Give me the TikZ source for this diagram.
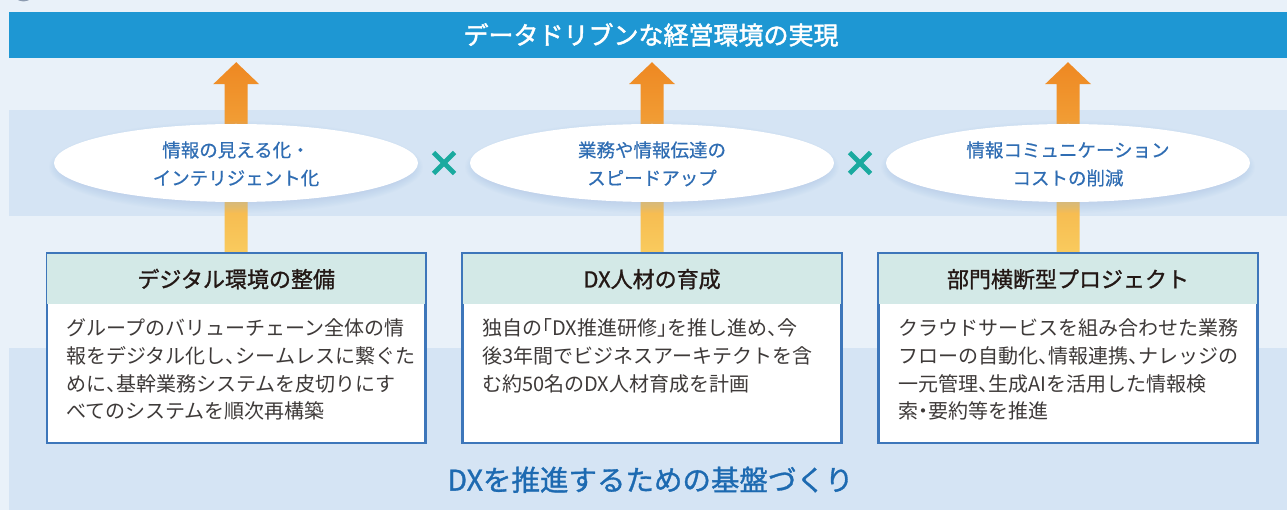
\documentclass[tikz,border=0pt]{standalone}
\usepackage{fontspec}
\setmainfont{Noto Sans CJK JP}
\newfontfamily\medfont[FakeBold=1.1]{Noto Sans CJK JP}
\newfontfamily\heavyfont[FakeBold=1.8]{Noto Sans CJK JP}
\newfontfamily\semifont[FakeBold=0.5]{Noto Sans CJK JP}
\usetikzlibrary{shapes.geometric,calc}
\XeTeXlinebreaklocale "ja"
\XeTeXlinebreakskip=0pt plus 3pt minus 1pt
\newcommand{\hwl}[1]{\makebox[0.5em][l]{#1}}
\newcommand{\hwr}[1]{\makebox[0.5em][r]{#1}}
\newcommand{\hwc}[1]{\makebox[0.5em][c]{#1}}
\newcommand{\fl}[1]{\hbox to 339pt{#1}}
\newcommand{\nl}[1]{\hbox{#1}}
\newcommand{\cl}[1]{\hbox to 0pt{\hss #1\hss}}
\definecolor{bgc}{HTML}{E9F1F9}
\definecolor{bandc}{HTML}{D5E4F4}
\definecolor{titlec}{HTML}{1E97D3}
\definecolor{arrtop}{HTML}{EE8822}
\definecolor{arrbot}{HTML}{F9CB5E}
\definecolor{elltxt}{HTML}{2F6DB3}
\definecolor{crossc}{HTML}{1AAA9F}
\definecolor{borderc}{HTML}{3D76BA}
\definecolor{hdrc}{HTML}{D3E9E7}
\definecolor{hdrtxt}{HTML}{231815}
\definecolor{bodytxt}{HTML}{3E3A39}
\definecolor{bottxt}{HTML}{1D6AB1}
\definecolor{shadc}{HTML}{9DBBE3}
\definecolor{dotc}{HTML}{8C9BB0}
\definecolor{darkenc}{HTML}{7A5A30}
\begin{document}
\begin{tikzpicture}[x=1pt,y=-1pt,
  titlebar/.style={rectangle,fill=titlec,minimum width=1278pt,minimum height=46pt,inner sep=0pt},
  titletxt/.style={text=white,font=\fontsize{25}{30}\selectfont\heavyfont,inner sep=0pt,anchor=base},
  ell/.style={ellipse,fill=white,minimum width=364pt,minimum height=78pt,inner sep=0pt},
  elltext/.style={text=elltxt,font=\fontsize{18.5}{28}\selectfont\semifont,inner sep=0pt,anchor=base},
  crossline/.style={draw=crossc,line width=4.8pt},
  arrowshade/.style={top color=arrtop,bottom color=arrbot},
  boxframe/.style={rectangle,draw=borderc,line width=1.6pt,fill=white,minimum width=378pt,minimum height=188.5pt,inner sep=0pt},
  hdrtext/.style={text=hdrtxt,font=\fontsize{22}{26}\selectfont\medfont,inner sep=0pt,anchor=base},
  bodytext/.style={text=bodytxt,font=\fontsize{20}{27.7}\selectfont,inner sep=0pt,anchor=base west},
  bottomtext/.style={text=bottxt,font=\fontsize{28.5}{32}\selectfont\medfont,inner sep=0pt,anchor=base}
]
\useasboundingbox (0,0) rectangle (1287,510);
\fill[bgc] (0,0) rectangle (1287,510);
\begin{scope}
  \clip (0,0) rectangle (1287,510);
  \fill[dotc] (23.5,-10) circle (11.5);
\end{scope}
% bands
\fill[bandc] (9,110) rectangle (1287,216);
\fill[bandc] (9,348) rectangle (1287,510);
% title bar and boxes (nodes)
\node[titlebar] (goal) at (648,35) {};
\node[titletxt] (goalt) at (651,44.5) {データドリブンな経営環境の実現};
\node[boxframe] (b1) at (236.2,348.3) {};
\node[boxframe] (b2) at (652,348.3) {};
\node[boxframe] (b3) at (1068,348.3) {};
% arrows
\foreach \b in {b1,b2,b3}{
  \shade[arrowshade]
    ($(\b.north)+(-11.5,0)$) --
    ($(goal.south -| \b.north)+(-11.5,26)$) --
    ($(goal.south -| \b.north)+(-23,26)$) --
    ($(goal.south -| \b.north)+(0,4)$) --
    ($(goal.south -| \b.north)+(23,26)$) --
    ($(goal.south -| \b.north)+(11.5,26)$) --
    ($(\b.north)+(11.5,0)$) -- cycle;
  \fill[darkenc,fill opacity=0.14] ($(\b.north)+(-11.5,0)$ |- 0,110) rectangle ($(\b.north)+(11.5,0)$ |- 0,216);
}
% ellipse shadows
\foreach \cx in {236,652,1068}{
  \foreach \i in {1,...,10}{
    \fill[shadc,fill opacity=0.045] (\cx,167) ellipse ({174+1.3*\i} and {33+1.3*\i});
  }
}
\node[ell] (e1) at (236,163) {};
\node[ell] (e2) at (652,163) {};
\node[ell] (e3) at (1068,163) {};
\node[elltext] (e1t) at (e1.center |- 0,157) {\vtop{\baselineskip=28pt\cl{情報の見える化・}\cl{インテリジェント化}}};
\node[elltext] (e2t) at (e2.center |- 0,157) {\vtop{\baselineskip=28pt\cl{業務や情報伝達の}\cl{スピードアップ}}};
\node[elltext] (e3t) at (e3.center |- 0,157) {\vtop{\baselineskip=28pt\cl{情報コミュニケーション}\cl{コストの削減}}};
% crosses
\coordinate (x1) at ($(e1.east)!0.5!(e2.west)$);
\coordinate (x2) at ($(e2.east)!0.5!(e3.west)$);
\foreach \x in {x1,x2}{
  \draw[crossline] ($(\x)+(-10.5,-10.5)$) -- ($(\x)+(10.5,10.5)$);
  \draw[crossline] ($(\x)+(-10.5,10.5)$) -- ($(\x)+(10.5,-10.5)$);
}
% box headers
\foreach \b in {b1,b2,b3}{
  \fill[hdrc] ($(\b.north west)+(0.8,0.8)$) rectangle ($(\b.north east)+(-0.8,50.7)$);
  \draw[borderc,line width=1.6pt] (\b.north west) rectangle (\b.south east);
}
\node[hdrtext] (h1) at (b1.north |- 0,287.5) {デジタル環境の整備};
\node[hdrtext] (h2) at (b2.north |- 0,287.5) {DX人材の育成};
\node[hdrtext] (h3) at (b3.north |- 0,287.5) {部門横断型プロジェクト};
% body texts
\node[bodytext] (t1) at (66,335.9) {\vtop{\baselineskip=27.7pt
  \fl{グループのバリューチェーン全体の情}
  \fl{報をデジタル化し\hwl{、}シームレスに繋ぐた}
  \fl{めに\hwl{、}基幹業務システムを皮切りにす}
  \nl{べてのシステムを順次再構築}}};
\node[bodytext] (t2) at (482,335.9) {\vtop{\baselineskip=27.7pt
  \fl{独自の\hwr{「}DX推進研修\hwl{」}を推し進め\hwl{、}今}
  \fl{後3年間でビジネスアーキテクトを含}
  \nl{む約50名のDX人材育成を計画}}};
\node[bodytext] (t3) at (898,335.9) {\vtop{\baselineskip=27.7pt
  \fl{クラウドサービスを組み合わせた業務}
  \fl{フローの自動化\hwl{、}情報連携\hwl{、}ナレッジの}
  \fl{一元管理\hwl{、}生成AIを活用した情報検}
  \nl{索\hwc{・}要約等を推進}}};
% bottom caption
\node[bottomtext] (cap) at (650.5,490.6) {DXを推進するための基盤づくり};
\end{tikzpicture}
\end{document}
